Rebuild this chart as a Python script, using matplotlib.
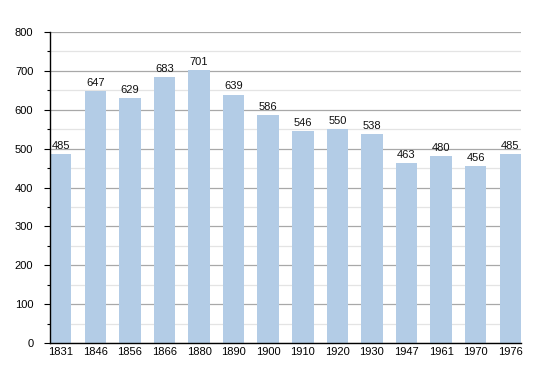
import matplotlib
matplotlib.use("Agg")
import matplotlib.pyplot as plt
from matplotlib.ticker import MultipleLocator

years = ["1831", "1846", "1856", "1866", "1880", "1890", "1900", "1910", "1920", "1930", "1947", "1961", "1970", "1976"]
population = [485, 647, 629, 683, 701, 639, 586, 546, 550, 538, 463, 480, 456, 485]

plt.rcParams['font.family'] = ['Liberation Sans', 'DejaVu Sans']

fig = plt.figure(figsize=(5.5, 3.73), dpi=100)
ax = fig.add_axes([50/550, 30/373, 471/550, 311/373])

w = 0.62
x = list(range(len(years)))
ax.bar(x, population, width=w, color='#b3cce6', zorder=2)
for xi, v in zip(x, population):
    ax.text(xi, v + 8, str(v), ha='center', va='bottom', fontsize=8, color='#111111', zorder=3)

ax.set_xlim(-w/2, len(years) - 1 + w/2)
ax.set_ylim(0, 800)
ax.set_xticks(x)
ax.set_xticklabels(years)
ax.yaxis.set_major_locator(MultipleLocator(100))
ax.yaxis.set_minor_locator(MultipleLocator(50))
ax.grid(axis='y', which='major', color='#a8a8a8', linewidth=0.9, zorder=0)
ax.grid(axis='y', which='minor', color='#e4e4e4', linewidth=0.9, zorder=0)
ax.set_axisbelow(True)

for s in ['top', 'right']:
    ax.spines[s].set_visible(False)
ax.spines['left'].set_linewidth(1.0)
ax.spines['bottom'].set_linewidth(1.0)
ax.tick_params(axis='y', which='major', length=4, width=0.8, labelsize=8, pad=8)
ax.tick_params(axis='y', which='minor', length=2.5, width=0.8)
ax.tick_params(axis='x', length=0, labelsize=8, pad=3)

fig.savefig("out.png", dpi=100)
